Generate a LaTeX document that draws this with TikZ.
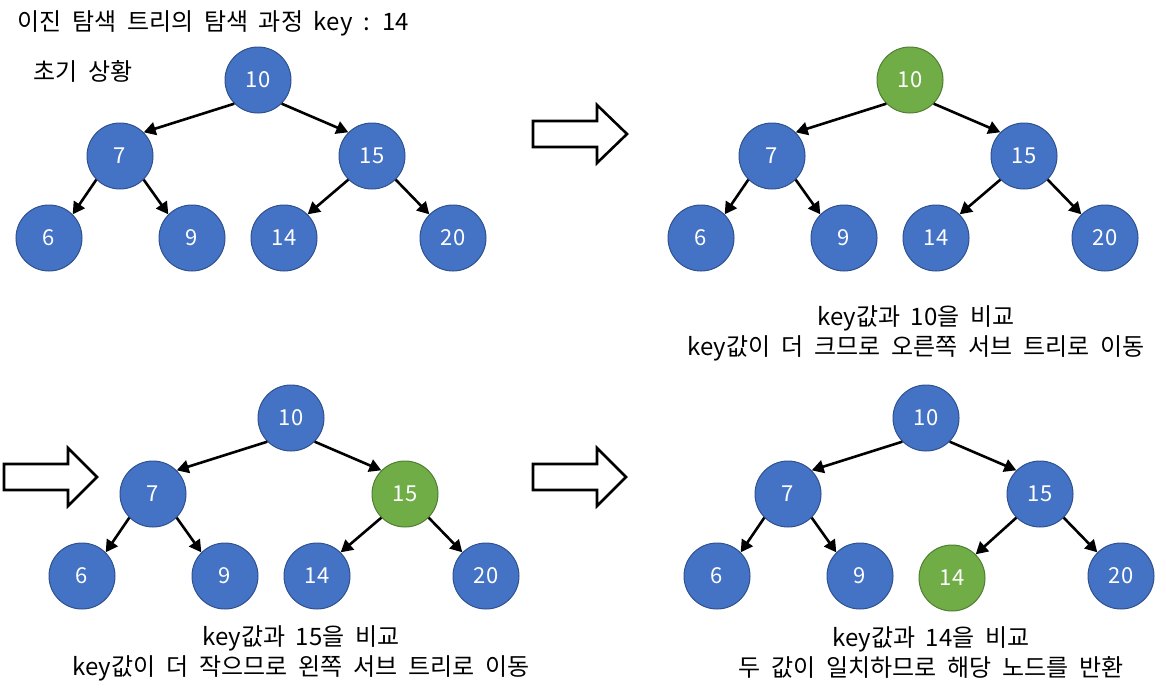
\documentclass[tikz,border=0pt]{standalone}
\usepackage{fontspec}
\setmainfont{Noto Sans CJK KR}
\newfontfamily\labelfont[WordSpace=2]{Noto Sans CJK KR}
\usetikzlibrary{arrows.meta}
\definecolor{nodeblue}{HTML}{4472C4}
\definecolor{nodeborder}{HTML}{2F528F}
\definecolor{hitgreen}{HTML}{70AD47}
\definecolor{hitborder}{HTML}{507E32}

\begin{document}
\begin{tikzpicture}[
  x=1pt, y=-1pt,
  vnode/.style={circle, draw=nodeborder, line width=1pt, fill=nodeblue, minimum size=66pt, inner sep=0pt, text=white, font=\fontsize{22}{26}\selectfont},
  hit/.style={fill=hitgreen, draw=hitborder},
  edge/.style={line width=2.6pt, -{Triangle[length=12pt,width=13pt]}},
  bigarrow/.style={draw, line width=2.6pt, fill=white, line join=miter},
  txt/.style={font=\labelfont\fontsize{24}{30}\selectfont, align=center, inner sep=0pt}
]
  \useasboundingbox (0,0) rectangle (1166,699);

  \node[txt, anchor=west] (title) at (17,23) {이진 탐색 트리의 탐색 과정 key : 14};
  \node[txt, anchor=west] (init) at (33,71) {초기 상황};

  % 초기 상황 (왼쪽 위)
  \begin{scope}[shift={(258,80)}]
    \node[vnode] (a10) at (0,0) {10};
    \node[vnode] (a7) at (-138,76) {7};
    \node[vnode] (a15) at (114,76) {15};
    \node[vnode] (a6) at (-209,158) {6};
    \node[vnode] (a9) at (-66,158) {9};
    \node[vnode] (a14) at (26,158) {14};
    \node[vnode] (a20) at (195,158) {20};
    \draw[edge] (a10.south west) -- (a7.north east);
    \draw[edge] (a10.south east) -- (a15.north west);
    \draw[edge] (a7.south west) -- (a6.north east);
    \draw[edge] (a7.south east) -- (a9.north west);
    \draw[edge] (a15.south west) -- (a14.north east);
    \draw[edge] (a15.south east) -- (a20.north west);
  \end{scope}

  % 10과 비교 (오른쪽 위)
  \begin{scope}[shift={(910,80)}]
    \node[vnode, hit] (b10) at (0,0) {10};
    \node[vnode] (b7) at (-138,76) {7};
    \node[vnode] (b15) at (114,76) {15};
    \node[vnode] (b6) at (-209,158) {6};
    \node[vnode] (b9) at (-66,158) {9};
    \node[vnode] (b14) at (26,158) {14};
    \node[vnode] (b20) at (195,158) {20};
    \draw[edge] (b10.south west) -- (b7.north east);
    \draw[edge] (b10.south east) -- (b15.north west);
    \draw[edge] (b7.south west) -- (b6.north east);
    \draw[edge] (b7.south east) -- (b9.north west);
    \draw[edge] (b15.south west) -- (b14.north east);
    \draw[edge] (b15.south east) -- (b20.north west);
    \node[txt] (bcap) at (6,253) {key값과 10을 비교\\key값이 더 크므로 오른쪽 서브 트리로 이동};
  \end{scope}

  % 15와 비교 (왼쪽 아래)
  \begin{scope}[shift={(291,418)}]
    \node[vnode] (c10) at (0,0) {10};
    \node[vnode] (c7) at (-138,76) {7};
    \node[vnode, hit] (c15) at (114,76) {15};
    \node[vnode] (c6) at (-209,158) {6};
    \node[vnode] (c9) at (-66,158) {9};
    \node[vnode] (c14) at (26,158) {14};
    \node[vnode] (c20) at (195,158) {20};
    \draw[edge] (c10.south west) -- (c7.north east);
    \draw[edge] (c10.south east) -- (c15.north west);
    \draw[edge] (c7.south west) -- (c6.north east);
    \draw[edge] (c7.south east) -- (c9.north west);
    \draw[edge] (c15.south west) -- (c14.north east);
    \draw[edge] (c15.south east) -- (c20.north west);
    \node[txt] (ccap) at (10,235) {key값과 15을 비교\\key값이 더 작으므로 왼쪽 서브 트리로 이동};
  \end{scope}

  % 14와 일치 (오른쪽 아래)
  \begin{scope}[shift={(926,418)}]
    \node[vnode] (d10) at (0,0) {10};
    \node[vnode] (d7) at (-138,76) {7};
    \node[vnode] (d15) at (114,76) {15};
    \node[vnode] (d6) at (-209,158) {6};
    \node[vnode] (d9) at (-66,158) {9};
    \node[vnode, hit] (d14) at (26,160) {14};
    \node[vnode] (d20) at (195,158) {20};
    \draw[edge] (d10.south west) -- (d7.north east);
    \draw[edge] (d10.south east) -- (d15.north west);
    \draw[edge] (d7.south west) -- (d6.north east);
    \draw[edge] (d7.south east) -- (d9.north west);
    \draw[edge] (d15.south west) -- (d14.north east);
    \draw[edge] (d15.south east) -- (d20.north west);
    \node[txt] (dcap) at (5,235) {key값과 14을 비교\\두 값이 일치하므로 해당 노드를 반환};
  \end{scope}

  % 단계 화살표
  \draw[bigarrow, shift={(533,134)}] (0,-13) -- (64,-13) -- (64,-29) -- (94,0) -- (64,29) -- (64,13) -- (0,13) -- cycle;
  \draw[bigarrow, shift={(4,477)}] (0,-13) -- (64,-13) -- (64,-29) -- (93,0) -- (64,29) -- (64,13) -- (0,13) -- cycle;
  \draw[bigarrow, shift={(533,477)}] (0,-13) -- (64,-13) -- (64,-29) -- (93,0) -- (64,29) -- (64,13) -- (0,13) -- cycle;
\end{tikzpicture}
\end{document}
